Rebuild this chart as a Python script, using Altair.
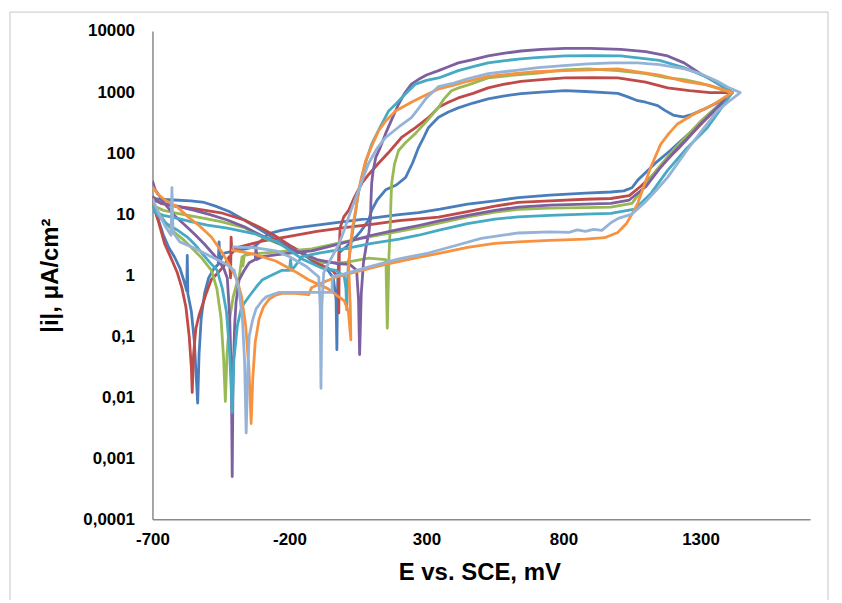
import altair as alt
import pandas as pd

X_TICKS = [-700, -200, 300, 800, 1300]
Y_TICKS = [0.0001, 0.001, 0.01, 0.1, 1, 10, 100, 1000, 10000]

SERIES = ["s1", "s2", "s3", "s4", "s5", "s6", "s7"]
COLORS = ["#4A7EBB", "#BE4B48", "#98B954", "#7D60A0", "#46AAC5", "#F69240", "#95B3D7"]

BLUE = [(-700, 15), (-690, 11), (-682, 9), (-660, 4.5), (-640, 2.8), (-620, 2.0), (-600, 1.3), (-585, 0.8),
        (-575, 0.55), (-573, 2.1), (-571, 0.5), (-558, 0.25), (-547, 0.08), (-540, 0.02), (-535, 0.008),
        (-530, 0.05), (-522, 0.2), (-510, 0.5), (-495, 0.9), (-475, 1.3), (-460, 1.5), (-457, 3.5), (-454, 1.7),
        (-438, 2.3), (-400, 2.5), (-360, 2.7), (-329, 2.9), (-300, 3.8), (-275, 4.8), (-230, 5.4), (-184, 5.9),
        (-100, 6.6), (0, 7.5), (100, 8.6), (200, 9.8), (271, 10.6), (350, 12), (450, 14.5), (550, 16.5),
        (635, 18.6), (750, 20.5), (880, 22), (973, 23), (1020, 24), (1050, 27), (1071, 36), (1100, 48),
        (1133, 67), (1190, 110), (1242, 180), (1290, 280), (1325, 380), (1370, 600), (1416, 980),
        (1370, 700), (1320, 540), (1270, 430), (1235, 390), (1200, 420), (1170, 500), (1144, 600), (1100, 680),
        (1071, 720), (1030, 850), (998, 950), (951, 980), (880, 1020), (805, 1050), (720, 1000), (645, 940),
        (580, 860), (525, 770), (470, 660), (416, 550), (380, 470), (344, 385), (320, 300), (307, 260),
        (290, 180), (271, 123), (250, 70), (224, 40), (190, 30), (151, 25), (120, 17), (100, 11.5), (89, 8),
        (60, 5.2), (42, 4.2), (10, 3.0), (-20, 2.3), (-25, 0.5), (-27, 0.06), (-30, 0.4), (-40, 0.9),
        (-60, 1.2), (-100, 1.5), (-150, 2.2), (-200, 2.9), (-245, 3.7), (-300, 5.3), (-365, 8), (-420, 11),
        (-470, 13.5), (-511, 15.5), (-560, 16.5), (-620, 17), (-682, 17.5), (-700, 19)]

RED = [(-700, 20), (-695, 13), (-680, 8), (-656, 3.3), (-630, 1.8), (-609, 1.08), (-592, 0.6), (-578, 0.3),
       (-566, 0.1), (-558, 0.03), (-555, 0.012), (-550, 0.05), (-542, 0.13), (-530, 0.22), (-520, 0.3),
       (-504, 0.5), (-485, 0.85), (-460, 1.1), (-440, 1.4), (-420, 2.0), (-415, 0.9), (-413, 4.2), (-410, 2.3),
       (-395, 2.8), (-300, 3.6), (-200, 4.3), (-100, 5.2), (0, 6), (100, 6.8), (200, 7.8), (344, 8.9),
       (450, 11), (550, 13.5), (635, 15.5), (750, 16.5), (880, 17.5), (973, 18), (1040, 20), (1080, 28),
       (1118, 40), (1160, 65), (1220, 120), (1278, 230), (1340, 450), (1416, 980),
       (1336, 980), (1260, 1050), (1180, 1170), (1100, 1450), (998, 1700), (900, 1720), (805, 1700),
       (720, 1600), (645, 1500), (580, 1330), (525, 1170), (470, 950), (416, 800), (380, 680), (344, 560),
       (307, 380), (260, 260), (209, 180), (160, 100), (125, 68), (90, 45), (64, 32), (35, 18), (16, 11.5),
       (-2, 9), (-15, 6), (-18, 3), (-20, 0.24), (-22, 0.9), (-40, 1.15), (-60, 1.3), (-100, 1.6),
       (-150, 2.3), (-200, 3.1), (-245, 4.2), (-300, 5.8), (-365, 8), (-450, 10.5), (-547, 12.3),
       (-620, 13.5), (-670, 15), (-700, 18)]

GREEN = [(-700, 15), (-680, 11), (-650, 7), (-620, 5), (-584, 3.7), (-550, 2.6), (-520, 1.9), (-485, 1.2),
         (-465, 0.6), (-450, 0.2), (-440, 0.04), (-434, 0.0085), (-428, 0.05), (-418, 0.2), (-405, 0.45),
         (-390, 0.8), (-384, 0.9), (-378, 1.4), (-373, 2.0), (-370, 1.4), (-365, 2.1), (-340, 2.2),
         (-300, 2.3), (-200, 2.5), (-118, 2.7), (0, 3.5), (100, 4.3), (200, 5.2), (271, 6.0), (350, 7.2),
         (450, 9), (550, 10.8), (635, 12), (750, 12.5), (880, 12.8), (973, 13), (1050, 15), (1110, 35),
         (1150, 60), (1200, 110), (1250, 190), (1300, 330), (1360, 580), (1416, 980),
         (1300, 1400), (1240, 1600), (1180, 1700), (1100, 2000), (998, 2240), (889, 2400), (800, 2300),
         (707, 2050), (620, 1900), (525, 1700), (450, 1300), (420, 1180), (391, 1050), (365, 780),
         (344, 560), (300, 330), (260, 210), (225, 150), (198, 110), (183, 65), (173, 32), (170, 15),
         (169, 9), (166, 4), (163, 2.0), (160, 0.5), (157, 0.135), (154, 0.6), (152, 1.8), (120, 1.85),
         (89, 1.9), (60, 1.8), (0, 1.6), (-80, 1.6), (-184, 2.6), (-250, 3.4), (-300, 4.2), (-365, 6),
         (-450, 7.5), (-530, 8.8), (-609, 10.3), (-660, 11.5), (-700, 14)]

PURPLE = [(-700, 35), (-690, 25), (-675, 20), (-656, 15), (-620, 9.5), (-580, 6.5), (-547, 4.7), (-510, 3.2),
          (-470, 2.0), (-440, 1.3), (-427, 0.9), (-418, 0.2), (-412, 0.02), (-409, 0.0005), (-406, 0.02),
          (-400, 0.15), (-395, 0.36), (-384, 0.83), (-365, 1.2), (-347, 1.6), (-325, 1.8), (-322, 2.9),
          (-319, 1.8), (-300, 2.0), (-200, 2.3), (-118, 2.5), (0, 3.4), (100, 4.5), (200, 5.6), (271, 6.5),
          (350, 7.8), (450, 9.5), (550, 11.5), (635, 13), (750, 14), (880, 14.5), (973, 15), (1040, 17),
          (1100, 28), (1150, 55), (1200, 100), (1250, 170), (1300, 300), (1360, 550), (1416, 980),
          (1360, 1400), (1300, 2000), (1240, 3000), (1180, 3900), (1100, 4600), (1009, 5000), (900, 5200),
          (805, 5200), (720, 5000), (645, 4700), (580, 4300), (525, 3900), (470, 3400), (416, 3000),
          (380, 2600), (344, 2240), (300, 1900), (270, 1600), (245, 1350), (220, 950), (198, 630),
          (175, 370), (151, 210), (130, 120), (115, 85), (105, 50), (100, 32), (97, 15), (96, 9), (90, 5),
          (80, 3), (70, 1.6), (62, 0.5), (56, 0.05), (52, 0.4), (45, 1.2), (20, 1.5), (-30, 1.55),
          (-100, 1.8), (-184, 2.6), (-250, 3.5), (-304, 4.5), (-365, 6.2), (-427, 8), (-490, 9.8),
          (-547, 11.5), (-610, 13.5), (-660, 15), (-700, 17)]

TEAL = [(-700, 14), (-680, 9.5), (-650, 7), (-610, 5.5), (-573, 4.2), (-540, 3.0), (-520, 2.3), (-490, 1.6),
        (-464, 1.2), (-445, 0.6), (-430, 0.25), (-418, 0.05), (-409, 0.0056), (-403, 0.04), (-390, 0.15),
        (-375, 0.3), (-347, 0.45), (-320, 0.65), (-300, 0.83), (-275, 0.95), (-227, 1.2), (-200, 1.2),
        (-196, 1.8), (-192, 1.2), (-170, 1.6), (-155, 2.0), (-93, 2.3), (0, 2.7), (100, 3.3), (200, 3.9),
        (271, 4.5), (350, 5.5), (450, 7), (550, 8.3), (635, 9), (750, 9.5), (880, 10), (973, 10.3),
        (1060, 12), (1120, 22), (1180, 52), (1250, 120), (1325, 260), (1370, 500), (1416, 980),
        (1330, 1700), (1242, 2500), (1150, 3300), (1009, 3900), (900, 3950), (805, 3900), (700, 3650),
        (645, 3500), (580, 3250), (525, 3000), (470, 2600), (416, 2240), (380, 1950), (344, 1700),
        (300, 1550), (260, 1350), (220, 900), (190, 650), (162, 490), (130, 260), (100, 140), (80, 75),
        (64, 40), (50, 20), (42, 11.5), (30, 5), (15, 1.5), (10, 0.6), (9, 0.27), (6, 0.6), (0, 0.95),
        (-30, 1.2), (-80, 1.3), (-150, 1.8), (-245, 3.5), (-330, 4.8), (-427, 5.9), (-500, 6.6),
        (-560, 7.5), (-609, 8.5), (-660, 9.5), (-700, 11)]

ORANGE = [(-700, 28), (-680, 21), (-650, 16.5), (-609, 13), (-570, 9), (-530, 6.5), (-485, 4.2), (-450, 2.5),
          (-420, 1.5), (-391, 0.83), (-375, 0.45), (-360, 0.15), (-348, 0.03), (-340, 0.0037), (-334, 0.02),
          (-325, 0.08), (-311, 0.19), (-295, 0.3), (-275, 0.4), (-250, 0.47), (-227, 0.5), (-180, 0.5),
          (-129, 0.48), (-120, 0.62), (-80, 0.75), (-56, 0.83), (-31, 0.93), (50, 1.15), (150, 1.5),
          (271, 1.95), (350, 2.3), (450, 2.85), (550, 3.3), (635, 3.5), (750, 3.7), (880, 3.9), (950, 4.1),
          (998, 5.0), (1030, 7), (1050, 10), (1071, 15), (1095, 30), (1118, 58), (1155, 140), (1185, 210),
          (1216, 300), (1278, 440), (1340, 600), (1416, 980),
          (1330, 1300), (1242, 1500), (1150, 1900), (998, 2400), (900, 2300), (805, 2240), (700, 2150),
          (620, 2000), (525, 1800), (450, 1500), (400, 1300), (344, 1120), (307, 940), (250, 700),
          (187, 490), (150, 330), (125, 230), (100, 130), (78, 75), (60, 35), (53, 25), (42, 12), (30, 6),
          (20, 2.5), (16, 1.35), (22, 0.3), (24, 0.087), (15, 0.25), (0, 0.38), (-20, 0.44), (-60, 0.6),
          (-129, 0.83), (-180, 1.15), (-250, 1.7), (-330, 2.2), (-413, 2.6)]

LIGHTBLUE = [(-700, 18), (-680, 11), (-655, 6.5), (-632, 4.5), (-629, 27), (-625, 5), (-600, 3.5), (-550, 2.8),
             (-485, 2.0), (-430, 1.5), (-402, 1.2), (-385, 0.6), (-372, 0.2), (-364, 0.04), (-358, 0.0026),
             (-352, 0.03), (-347, 0.1), (-335, 0.18), (-322, 0.28), (-300, 0.38), (-285, 0.44), (-238, 0.52),
             (-150, 0.52), (-90, 0.52), (-45, 0.52), (-43, 0.95), (0, 1.05), (100, 1.4), (200, 1.85),
             (307, 2.3), (400, 3.0), (500, 4.0), (635, 4.9), (750, 5.1), (820, 5.0), (850, 5.5), (880, 5.2),
             (910, 5.6), (940, 5.4), (973, 7.2), (1000, 8.5), (1050, 10), (1100, 16), (1140, 25), (1180, 40),
             (1250, 110), (1310, 250), (1362, 490), (1400, 680), (1445, 980),
             (1400, 1200), (1362, 1500), (1300, 2000), (1242, 2400), (1150, 2800), (1071, 3000), (980, 3000),
             (889, 2900), (800, 2700), (707, 2500), (620, 2250), (525, 2000), (450, 1650), (400, 1400),
             (344, 1230), (300, 800), (270, 530), (245, 380), (200, 270), (151, 180), (120, 120), (89, 68),
             (65, 35), (42, 18.6), (16, 9), (0, 5.5), (-20, 3.2), (-50, 1.8), (-75, 1.1), (-82, 0.3),
             (-85, 0.014), (-88, 0.3), (-93, 0.93), (-140, 1.4), (-200, 2.0), (-250, 2.5), (-322, 2.8),
             (-409, 2.9)]

DATA = [BLUE, RED, GREEN, PURPLE, TEAL, ORANGE, LIGHTBLUE]

FONT = "Liberation Sans"

x_enc = alt.X(
    "E:Q",
    scale=alt.Scale(domain=[-700, 1700], nice=False, zero=False),
    axis=alt.Axis(values=X_TICKS, labelExpr="toString(datum.value)", title="E vs. SCE, mV", grid=False,
                  ticks=False, labelFlush=False, labelOverlap=False, domainColor="#898989", domainWidth=1.5,
                  labelFont=FONT, labelFontWeight="bold", labelFontSize=17, labelColor="#000000",
                  labelPadding=12, titleFont=FONT, titleFontWeight="bold", titleFontSize=24,
                  titleColor="#000000", titleX=328, titleY=61, titleBaseline="alphabetic",
                  titleAlign="center"),
)
y_enc = alt.Y(
    "I:Q",
    scale=alt.Scale(type="log", domain=[0.0001, 10000], nice=False),
    axis=alt.Axis(values=Y_TICKS, labelExpr="replace(toString(datum.value), '.', ',')",
                  title="|i|, μA/cm²", grid=False, ticks=False, labelOverlap=False, labelFlush=False,
                  domainColor="#898989", domainWidth=1.5, labelFont=FONT, labelFontWeight="bold",
                  labelFontSize=17, labelColor="#000000", labelPadding=18, titleFont=FONT,
                  titleFontWeight="bold", titleFontSize=24, titleColor="#000000", titleAngle=-90,
                  titleX=-102, titleY=245, titleBaseline="middle", titleAlign="center"),
)

layers = []
for name, color, pts in zip(SERIES, COLORS, DATA):
    df = pd.DataFrame({"E": [p[0] for p in pts], "I": [p[1] for p in pts], "k": list(range(len(pts)))})
    layers.append(
        alt.Chart(df).mark_line(color=color, strokeWidth=2.8, strokeJoin="round", clip=True)
        .encode(x=x_enc, y=y_enc, order="k:Q")
    )

frame = alt.Chart(pd.DataFrame({"a": [0]})).mark_rect(
    fillOpacity=0, stroke="#c6c6c6", strokeWidth=1, clip=False
).encode(x=alt.value(-143), x2=alt.value(678), y=alt.value(-19), y2=alt.value(590))

chart = alt.layer(frame, *layers).properties(
    width=660, height=490,
    autosize=alt.AutoSizeParams(type="none"),
    padding={"left": 145, "top": 22, "right": 24, "bottom": 80},
).configure_view(strokeWidth=0)

chart.save("out.html", embed_options={"renderer": "svg", "actions": False})
